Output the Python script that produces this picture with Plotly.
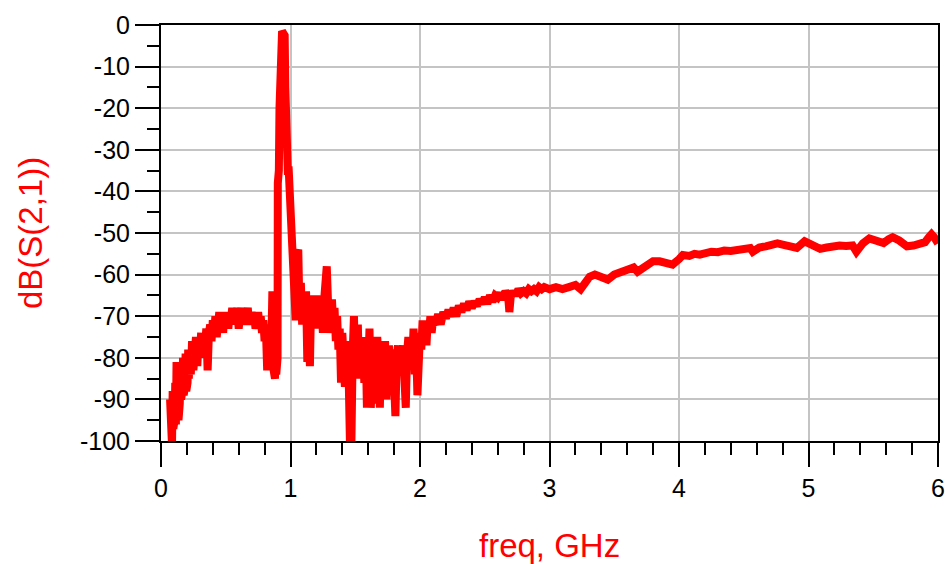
import plotly.graph_objects as go

# trace, split into segments (freq in GHz, dB(S(2,1)))
freq_low = [0.070, 0.075, 0.080, 0.085, 0.090, 0.095, 0.100, 0.105, 0.110, 0.115,
            0.120, 0.125, 0.130, 0.135, 0.140, 0.145, 0.150, 0.155, 0.160, 0.165,
            0.170, 0.175, 0.180, 0.185, 0.190, 0.195, 0.200, 0.205, 0.210, 0.215,
            0.220, 0.230, 0.240, 0.250, 0.260, 0.270, 0.280, 0.290, 0.300, 0.310,
            0.320, 0.330, 0.340, 0.350, 0.360, 0.370, 0.380, 0.390, 0.400, 0.410,
            0.420, 0.430, 0.440, 0.450, 0.460, 0.470, 0.480, 0.490, 0.500, 0.510,
            0.520, 0.530, 0.540, 0.550, 0.560, 0.570, 0.580, 0.590, 0.600, 0.610,
            0.620, 0.630, 0.640, 0.650, 0.660, 0.670, 0.680, 0.690, 0.700, 0.710,
            0.720, 0.730, 0.740, 0.750, 0.760, 0.770, 0.780, 0.790, 0.800, 0.810,
            0.820, 0.830, 0.840, 0.850, 0.860, 0.865, 0.870, 0.875, 0.880, 0.885]
s21_low = [-90, -99, -92, -101, -88, -97, -89, -95, -86, -96,
           -81, -93, -83, -95, -85, -91, -81, -90, -82, -88,
           -80, -89, -82, -87, -79, -88, -81, -86, -78, -85,
           -79, -84, -76, -83, -78, -75, -82, -76, -79, -74,
           -80, -75, -77, -73, -83, -74, -72, -76, -71, -74,
           -70, -75, -72, -69, -73, -71, -74, -69, -72, -70,
           -73, -69, -71, -68, -72, -69, -70, -68, -73, -70,
           -68, -71, -69, -72, -70, -68, -72, -70, -69, -71,
           -70, -73, -71, -69, -72, -70, -74, -71, -76, -73,
           -83, -78, -72, -80, -64, -75, -83, -80, -85, -78]

freq_peak = [0.890, 0.900, 0.902, 0.910, 0.915, 0.925, 0.935, 0.945, 0.955, 0.960,
             0.965, 0.970, 0.975, 0.980, 0.985, 0.990, 0.995, 1.000, 1.005, 1.010]
s21_peak = [-84, -80, -38, -35, -20, -2, -1.5, -2, -2.5, -15,
            -30, -34, -32, -36, -34, -38, -37, -42, -45, -52]

freq_mid = [1.02, 1.03, 1.04, 1.05, 1.06, 1.07, 1.08, 1.09, 1.10, 1.11,
            1.12, 1.13, 1.14, 1.15, 1.16, 1.17, 1.18, 1.19, 1.20, 1.21,
            1.22, 1.23, 1.24, 1.25, 1.26, 1.27, 1.28, 1.29, 1.30, 1.31,
            1.32, 1.33, 1.34, 1.35, 1.36, 1.37, 1.38, 1.39, 1.40, 1.41,
            1.42, 1.43, 1.44, 1.45, 1.46, 1.47, 1.48, 1.49, 1.50, 1.51,
            1.52, 1.53, 1.54, 1.55, 1.56, 1.57, 1.58, 1.59, 1.60, 1.61,
            1.62, 1.63, 1.64, 1.65, 1.66, 1.67, 1.68, 1.69, 1.70, 1.71,
            1.72, 1.73, 1.74, 1.75, 1.76, 1.77, 1.78, 1.79, 1.80, 1.81,
            1.82, 1.83, 1.84, 1.85, 1.86, 1.87, 1.88, 1.89, 1.90, 1.91,
            1.92, 1.93, 1.94, 1.95, 1.96, 1.97, 1.98, 1.99, 2.00, 2.01,
            2.02, 2.03, 2.04, 2.05, 2.06, 2.07, 2.08, 2.09, 2.10]
s21_mid = [-58, -66, -71, -55, -54, -70, -62, -72, -65, -70,
           -64, -81, -72, -82, -65, -71, -66, -72, -65, -73,
           -66, -71, -67, -74, -66, -63, -58, -67, -74, -70,
           -66, -72, -68, -76, -70, -78, -73, -86, -74, -80,
           -87, -76, -80, -86, -102, -101, -79, -70, -84, -76,
           -72, -85, -76, -83, -77, -86, -75, -92, -80, -73,
           -92, -79, -76, -91, -77, -75, -83, -92, -77, -83,
           -79, -76, -90, -80, -77, -84, -79, -78, -86, -94,
           -80, -77, -84, -79, -82, -77, -85, -92, -79, -75,
           -82, -76, -81, -73, -84, -77, -89, -80, -74, -78,
           -71, -76, -72, -77, -71, -74, -70, -74, -71]

freq_high = [2.12, 2.14, 2.16, 2.18, 2.20, 2.22, 2.24, 2.26, 2.28, 2.30,
             2.32, 2.34, 2.36, 2.38, 2.40, 2.42, 2.44, 2.46, 2.48, 2.50,
             2.52, 2.54, 2.56, 2.58, 2.60, 2.62, 2.64, 2.66, 2.68, 2.69,
             2.70, 2.72, 2.74, 2.76, 2.78, 2.80, 2.82, 2.84, 2.86, 2.88,
             2.90, 2.92, 2.94, 2.96, 2.98, 3.00, 3.05, 3.10, 3.15, 3.20,
             3.24, 3.28, 3.31, 3.35, 3.40, 3.45, 3.50, 3.55, 3.60, 3.65,
             3.68, 3.72, 3.76, 3.80, 3.85, 3.90, 3.95, 4.00, 4.03, 4.08,
             4.12, 4.16, 4.20, 4.25, 4.30, 4.35, 4.40, 4.45, 4.50, 4.55,
             4.57, 4.62, 4.67, 4.72, 4.76, 4.80, 4.85, 4.91, 4.97, 5.02,
             5.06, 5.09, 5.14, 5.19, 5.24, 5.29, 5.34, 5.37, 5.42, 5.47,
             5.52, 5.58, 5.62, 5.65, 5.70, 5.76, 5.81, 5.86, 5.90, 5.93,
             5.95, 5.97, 6.00]
s21_high = [-72, -69.5, -72, -69, -70.5, -68.5, -70, -68, -70, -67.5,
            -69, -67, -68.5, -66.5, -68, -66.5, -67.5, -66, -67, -65.5,
            -67, -65, -66.5, -65, -65.5, -64.5, -66, -64, -65, -69,
            -65.5, -64, -65, -63.5, -64.5, -64, -64.5, -63.5, -64, -63.5,
            -64, -63, -63.5, -63, -63.5, -63.5, -63, -63.5, -63, -62.5,
            -63.5, -61.5, -60.5, -60, -60.5, -61.2, -60, -59.5, -58.5, -58.3,
            -59.3, -58.5, -57.5, -56.8, -56.8, -57, -57.6, -56.3, -55.3, -55.5,
            -55, -55.2, -54.8, -54.5, -54.6, -54.2, -54.3, -54, -53.8, -53.6,
            -54.5, -53.5, -53.2, -52.7, -52.5, -52.8, -53, -53.6, -52, -52.8,
            -53.4, -53.8, -53.5, -53.2, -53, -53.1, -53, -54.5, -52.5, -51.3,
            -52, -52.4, -51.5, -51, -51.8, -53.2, -53, -52.5, -52.2, -51,
            -50.3, -51, -52.5]

x_ticks = [0, 1, 2, 3, 4, 5, 6]
y_ticks = [0, -10, -20, -30, -40, -50, -60, -70, -80, -90, -100]

freq = freq_low + freq_peak + freq_mid + freq_high
s21 = s21_low + s21_peak + s21_mid + s21_high
assert len(freq) == len(s21)

FONT = "Liberation Sans, Arial, sans-serif"

fig = go.Figure(go.Scatter(
    x=freq, y=s21, mode="lines",
    line=dict(color="#ff0000", width=8),
    hoverinfo="skip",
))

axis_common = dict(
    automargin=False,
    showline=True, linecolor="black", linewidth=2, mirror=True,
    showgrid=True, gridcolor="#c4c4c4", gridwidth=2,
    zeroline=False,
    ticks="outside", ticklen=24, tickwidth=2, tickcolor="black",
    tickfont=dict(family=FONT, size=25, color="black"),
)

fig.update_xaxes(
    range=[0, 6], tickvals=x_ticks,
    minor=dict(dtick=0.2, ticks="outside", ticklen=12, tickwidth=2,
               tickcolor="black", showgrid=False),
    **axis_common,
)
fig.update_yaxes(
    range=[-100, 0], tickvals=y_ticks,
    ticktext=[str(v) for v in y_ticks],
    minor=dict(dtick=5, ticks="outside", ticklen=12, tickwidth=2,
               tickcolor="black", showgrid=False),
    **axis_common,
)

fig.update_layout(
    width=945, height=564,
    margin=dict(l=161, r=7, t=25, b=123),
    plot_bgcolor="white", paper_bgcolor="white",
    showlegend=False,
    annotations=[
        dict(text="freq, GHz", xref="paper", yref="paper", x=0.5, y=0,
             yshift=-104, showarrow=False, yanchor="middle",
             font=dict(family=FONT, size=33, color="#ff0000")),
        dict(text="dB(S(2,1))", xref="paper", yref="paper", x=0, y=0.5,
             xshift=-131, showarrow=False, textangle=-90, xanchor="center",
             font=dict(family=FONT, size=33, color="#ff0000")),
    ],
)

# drop the default page margin so the figure sits at the window's corner
fig.write_html(
    "out.html",
    config={"displayModeBar": False},
    post_script="document.body.style.margin='0';document.body.style.overflow='hidden';",
)
